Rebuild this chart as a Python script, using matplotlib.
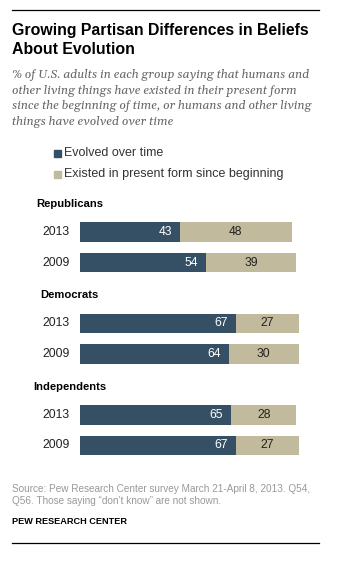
import matplotlib
matplotlib.use("Agg")
import matplotlib.pyplot as plt
from matplotlib.lines import Line2D
from matplotlib.patches import Rectangle

# ---- data ----
groups = ["Republicans", "Democrats", "Independents"]
years = ["2013", "2009"]
evolved = [43, 54, 67, 64, 65, 67]
existed = [48, 39, 27, 30, 28, 27]
series_names = ["Evolved over time", "Existed in present form since beginning"]

title = "Growing Partisan Differences in Beliefs\nAbout Evolution"
subtitle = ("% of U.S. adults in each group saying that humans and\n"
            "other living things have existed in their present form\n"
            "since the beginning of time, or humans and other living\n"
            "things have evolved over time")
source = ("Source: Pew Research Center survey March 21-April 8, 2013. Q54,\n"
          "Q56. Those saying \u201cdon\u2019t know\u201d are not shown.")
credit = "PEW RESEARCH CENTER"

# ---- style ----
DARK = "#355064"
TAN = "#C2BA9C"
SANS = "Liberation Sans"
SERIF = "Gelasio"

W, H = 360, 562
fig = plt.figure(figsize=(W / 100, H / 100), dpi=100)
fig.patch.set_facecolor("white")


def fx(x):
    return x / W


def fy(y):
    return 1 - y / H


# rules top/bottom
fig.add_artist(Line2D([fx(12), fx(319)], [fy(10), fy(10)], color="black", lw=0.9))
fig.add_artist(Line2D([fx(12), fx(319)], [fy(543), fy(543)], color="black", lw=0.9))

fig.text(fx(12), fy(23), title, family=SANS, weight="bold", fontsize=11.4,
         va="top", ha="left", linespacing=1.36, color="black")
fig.text(fx(12), fy(69), subtitle, family=SERIF, style="italic", fontsize=8.7,
         va="top", ha="left", linespacing=1.39, color="#666666")

# legend
for i, (name, col) in enumerate(zip(series_names, [DARK, TAN])):
    yc = 153.5 + i * 20.5
    fig.add_artist(Rectangle((fx(54), fy(yc + 3.5)), fx(7), 7 / H,
                             color=col, transform=fig.transFigure))
    fig.text(fx(64), fy(yc), name, family=SANS, fontsize=9.0, va="center",
             ha="left", color="#333333")

# bars axis: x0 = 80px, 100 units = 232.6px ; row step 30.5px
row_step = 30.5
x0, scale = 80, 2.326
top_center = 232.0
positions = []
for g in range(len(groups)):
    for r in range(len(years)):
        positions.append(g * 3 + r)
ylo = top_center - row_step * 0.5
yhi = top_center + row_step * (max(positions) + 0.5)
ax = fig.add_axes([fx(x0), fy(yhi), 100 * scale / W, (yhi - ylo) / H])
ax.set_xlim(0, 100)
ax.set_ylim(max(positions) + 0.5, -0.5)
ax.axis("off")

bh = 19.6 / row_step
ax.barh(positions, evolved, height=bh, color=DARK, linewidth=0)
ax.barh(positions, existed, left=evolved, height=bh, color=TAN, linewidth=0)

for p, e, x in zip(positions, evolved, existed):
    ax.annotate(str(e), (e, p), xytext=(-8, 0), textcoords="offset pixels",
                ha="right", va="center", color="white", family=SANS, fontsize=8.7)
    ax.text(e + x / 2, p, str(x), ha="center", va="center", color="#222222",
            family=SANS, fontsize=8.7)
    ax.annotate(years[p % 3], (0, p), xytext=(-10, 0), textcoords="offset pixels",
                ha="right", va="center", color="#222222", family=SANS, fontsize=8.8,
                annotation_clip=False)

for g, name in enumerate(groups):
    ax.annotate(name, (0, g * 3 - 0.92), xytext=(-(x0 - 69.5), 0),
                textcoords="offset pixels", ha="center", va="center",
                color="black", family=SANS, weight="bold", fontsize=8.1,
                annotation_clip=False)

fig.text(fx(12), fy(484), source, family=SANS, fontsize=7.2, va="top",
         ha="left", linespacing=1.25, color="#999999")
fig.text(fx(12), fy(522), credit, family=SANS, weight="bold", fontsize=6.6,
         va="center", ha="left", color="black")

fig.savefig("out.png", dpi=100, facecolor="white")
